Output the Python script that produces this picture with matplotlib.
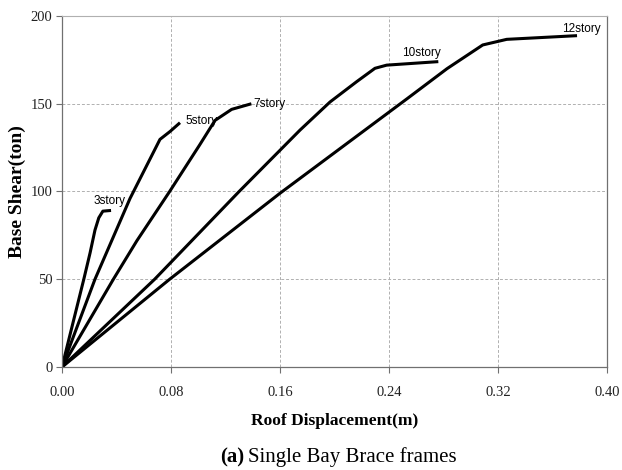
import numpy as np
import matplotlib
matplotlib.use("Agg")
import matplotlib.pyplot as plt

# ------------- dados -------------------------------------
# deslocamento do topo (m) x cortante na base (ton)
x_3story = [0.0, 0.016, 0.0206, 0.0242, 0.027, 0.030, 0.036]
y_3story = [0.0, 50.0, 65.0, 78.0, 85.0, 88.8, 89.2]

x_5story = [0.0, 0.0242, 0.0499, 0.0719, 0.0793, 0.0866]
y_5story = [0.0, 50.0, 96.0, 129.7, 134.2, 139.2]

x_7story = [0.0, 0.0377, 0.055, 0.079, 0.101, 0.1123, 0.1245, 0.139]
y_7story = [0.0, 50.0, 72.0, 100.0, 126.5, 140.5, 146.8, 150.0]

x_10story = [0.0, 0.068, 0.130, 0.1747, 0.1967, 0.2163, 0.2297, 0.2383, 0.2762]
y_10story = [0.0, 50.0, 100.0, 135.0, 151.0, 162.6, 170.2, 172.0, 174.0]

x_12story = [0.0, 0.079, 0.160, 0.2535, 0.2826, 0.3088, 0.3264, 0.378]
y_12story = [0.0, 50.0, 99.0, 153.0, 170.0, 183.5, 186.7, 188.8]

curvas = [
    ("3story", x_3story, y_3story, (0.0235, 94.6)),
    ("5story", x_5story, y_5story, (0.0905, 140.0)),
    ("7story", x_7story, y_7story, (0.1405, 150.0)),
    ("10story", x_10story, y_10story, (0.2496, 178.9)),
    ("12story", x_12story, y_12story, (0.367, 192.6)),
]

xticks = [0.0, 0.08, 0.16, 0.24, 0.32, 0.40]
yticks = [0, 50, 100, 150, 200]

# ------------- definicoes padroes --------------------
serif = ["Liberation Serif", "DejaVu Serif"]
sans = ["Liberation Sans", "DejaVu Sans"]
cinza_grade = "#b0b0b0"
cinza_borda = "#707070"

fig = plt.figure(figsize=(6.22, 4.70), dpi=100)
ax = fig.add_axes([62 / 622, 1 - 367 / 470, 545 / 622, 351 / 470])

for nome, xs, ys, pos in curvas:
    ax.plot(xs, ys, color="black", linewidth=2.2, solid_capstyle="butt")
    ax.text(pos[0], pos[1], nome, family=sans, fontsize=8.5, color="black",
            fontweight="medium", ha="left", va="center")

ax.set_xlim(0, 0.40)
ax.set_ylim(0, 200)
ax.set_xticks(xticks)
ax.set_yticks(yticks)
ax.set_xticklabels(["{:.2f}".format(v) for v in xticks])
ax.set_yticklabels([str(v) for v in yticks])
for lab in ax.get_xticklabels() + ax.get_yticklabels():
    lab.set_family(serif)
    lab.set_fontsize(10.5)
    lab.set_color("#222222")

ax.tick_params(axis="x", direction="out", length=4, width=0.8, color=cinza_borda, pad=10)
ax.tick_params(axis="y", direction="out", length=4, width=0.8, color=cinza_borda, pad=3)

ax.grid(True, linestyle=(0, (3, 2)), color=cinza_grade, linewidth=0.7)
ax.set_axisbelow(True)

for lado in ["left", "bottom", "right"]:
    ax.spines[lado].set_color(cinza_borda)
    ax.spines[lado].set_linewidth(0.9)
ax.spines["top"].set_color("#b0b0b0")
ax.spines["top"].set_linewidth(0.8)

ax.set_xlabel("Roof Displacement(m)", family=serif, fontsize=12.5,
              fontweight="bold", labelpad=10)
ax.set_ylabel("Base Shear(ton)", family=serif, fontsize=14,
              fontweight="bold", labelpad=3)

# legenda da figura
fig.text(244 / 622, 1 - 457 / 470, "(a)", family=serif, fontsize=15,
         fontweight="bold", ha="right", va="center")
fig.text(248 / 622, 1 - 457 / 470, "Single Bay Brace frames", family=serif,
         fontsize=15, ha="left", va="center")

fig.savefig("out.png", dpi=100)
